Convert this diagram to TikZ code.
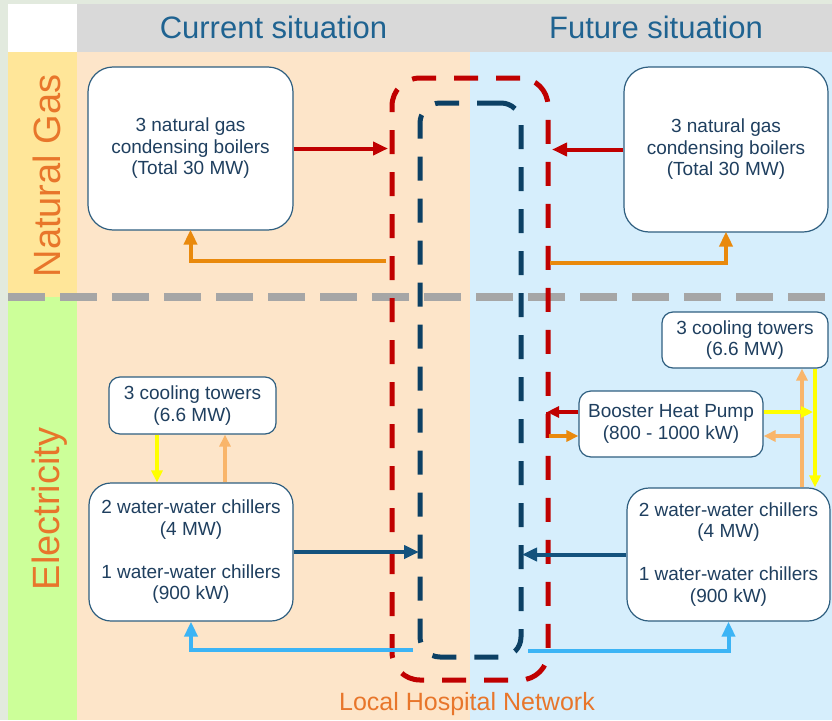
\documentclass[tikz,border=0pt]{standalone}
\usepackage{fontspec}
\setmainfont{Liberation Sans}
\usetikzlibrary{arrows.meta}
\definecolor{bgside}{RGB}{226,234,222}
\definecolor{hdrgray}{RGB}{217,217,217}
\definecolor{gasyellow}{RGB}{255,230,153}
\definecolor{elgreen}{RGB}{204,255,153}
\definecolor{peach}{RGB}{253,229,201}
\definecolor{skyblue}{RGB}{214,238,252}
\definecolor{sepgray}{RGB}{166,166,166}
\definecolor{netred}{RGB}{192,0,0}
\definecolor{netblue}{RGB}{12,64,100}
\definecolor{flowblue}{RGB}{20,82,125}
\definecolor{lightblue}{RGB}{60,180,245}
\definecolor{gasorange}{RGB}{233,137,12}
\definecolor{lightorange}{RGB}{249,181,106}
\definecolor{ylw}{RGB}{255,255,0}
\definecolor{labelorange}{RGB}{232,118,43}
\definecolor{hdrblue}{RGB}{31,99,145}
\definecolor{boxtext}{RGB}{31,63,95}
\definecolor{boxborder}{RGB}{47,95,128}
\tikzset{
  boxfont/.style={font=\fontsize{19}{21.5}\selectfont, text=boxtext, align=center},
  bigbox/.style={boxfont, draw=boxborder, line width=1.2pt, fill=white, rounded corners=25pt, inner sep=0pt},
  smallbox/.style={boxfont, draw=boxborder, line width=1.2pt, fill=white, rounded corners=11pt, inner sep=0pt},
  flow/.style={line width=4pt, -{Triangle[length=15pt,width=13pt]}},
  thinflow/.style={line width=3.6pt, -{Triangle[length=12pt,width=11pt]}},
  hdr/.style={font=\fontsize{31}{36}\selectfont, text=hdrblue, anchor=base},
  sidelabel/.style={font=\fontsize{38}{44}\selectfont, text=labelorange, rotate=90, anchor=base},
  loop/.style={line width=5pt, dash pattern=on 24pt off 18pt, inner sep=0pt, outer sep=0pt}
}
\begin{document}
\begin{tikzpicture}[x=1pt,y=-1pt]
\useasboundingbox (0,0) rectangle (832,720);
% backgrounds
\fill[bgside] (0,0) rectangle (832,720);
\fill[white] (8,4) rectangle (77,52);
\fill[hdrgray] (77,4) rectangle (832,52);
\fill[gasyellow] (8,52) rectangle (77,297);
\fill[elgreen] (8,297) rectangle (77,720);
\fill[peach] (77,52) rectangle (470,720);
\fill[skyblue] (470,52) rectangle (832,720);
\draw[sepgray, line width=8pt, dash pattern=on 37pt off 15pt] (8,297) -- (832,297);
% headers and labels
\node[hdr] (hcur) at (273.5,38) {Current situation};
\node[hdr] (hfut) at (656,38) {Future situation};
\node[sidelabel] (lgas) at (60,176) {Natural Gas};
\node[sidelabel] (lel) at (59,509) {Electricity};
\node[font=\fontsize{25}{30}\selectfont, text=labelorange, anchor=base] (lnet) at (467,710) {Local Hospital Network};
% network loops
\node[loop, draw=netred, rounded corners=28pt, minimum width=156pt, minimum height=602pt] (redloop) at (470,379) {};
\node[loop, draw=netblue, rounded corners=20pt, minimum width=101pt, minimum height=554pt] (blueloop) at (470.5,380) {};
% boxes
\node[bigbox, minimum width=205pt, minimum height=163pt] (boilC) at (190.5,148.5) {3 natural gas\\condensing boilers\\(Total 30 MW)};
\node[bigbox, minimum width=204pt, minimum height=165pt] (boilF) at (726,149.5) {3 natural gas\\condensing boilers\\(Total 30 MW)};
\node[smallbox, minimum width=167pt, minimum height=57pt] (ctC) at (192.5,405.5) {3 cooling towers\\(6.6 MW)};
\node[bigbox, rounded corners=22pt, minimum width=204pt, minimum height=138pt] (chC) at (191,552) {2 water-water chillers\\(4 MW)\\[21.5pt]1 water-water chillers\\(900 kW)};
\node[smallbox, minimum width=166pt, minimum height=56pt] (ctF) at (745,340) {3 cooling towers\\(6.6 MW)};
\node[smallbox, rounded corners=12pt, minimum width=184pt, minimum height=66pt] (bhp) at (671,424) {Booster Heat Pump\\(800 - 1000 kW)};
\node[bigbox, rounded corners=22pt, minimum width=203pt, minimum height=133pt] (chF) at (728.5,554.5) {2 water-water chillers\\(4 MW)\\[21.5pt]1 water-water chillers\\(900 kW)};
% level coordinates
\coordinate (yOrC) at (0,261);
\coordinate (yOrF) at (0,263);
\coordinate (yLbC) at (0,650);
\coordinate (yLbF) at (0,651);
\coordinate (yBr) at (0,412);
\coordinate (yBo) at (0,436);
\coordinate (xYC) at (157,0);
\coordinate (xOC) at (225,0);
\coordinate (xYF) at (815,0);
\coordinate (xOF) at (802,0);
% current side flows
\draw[flow, netred, shorten >=4pt] (boilC.east) -- (boilC.east -| redloop.west);
\draw[flow, gasorange, shorten <=6pt, shorten >=-1pt] (redloop.west |- yOrC) -| (boilC.south);
\draw[thinflow, ylw] (xYC |- ctC.south) -- (xYC |- chC.north);
\draw[thinflow, lightorange] (xOC |- chC.north) -- (xOC |- ctC.south);
\draw[flow, flowblue, shorten >=1pt] (chC.east) -- (chC.east -| blueloop.west);
\draw[flow, lightblue, shorten <=7pt] (blueloop.west |- yLbC) -| (chC.south);
% future side flows
\draw[flow, netred, shorten >=4pt] (boilF.west) -- (boilF.west -| redloop.east);
\draw[flow, gasorange, shorten <=2pt, shorten >=-1pt] (redloop.east |- yOrF) -| (boilF.south);
\draw[flow, flowblue, shorten >=1pt] (chF.west) -- (chF.west -| blueloop.east);
\draw[flow, lightblue, shorten <=7pt] (blueloop.east |- yLbF) -| (chF.south);
\draw[netred, line width=4pt] (redloop.east |- yBr) -- (redloop.east |- yBo);
\draw[thinflow, netred, shorten >=-1pt] (bhp.west |- yBr) -- (redloop.east |- yBr);
\draw[thinflow, gasorange, shorten <=1pt] (redloop.east |- yBo) -- (bhp.west |- yBo);
\draw[thinflow, ylw] (xYF |- ctF.south) -- (xYF |- chF.north);
\draw[thinflow, lightorange] (xOF |- chF.north) -- (xOF |- ctF.south);
\draw[thinflow, ylw, shorten >=2pt] (bhp.east |- yBr) -- (xYF |- yBr);
\draw[thinflow, lightorange] (xOF |- yBo) -- (bhp.east |- yBo);
\end{tikzpicture}
\end{document}
